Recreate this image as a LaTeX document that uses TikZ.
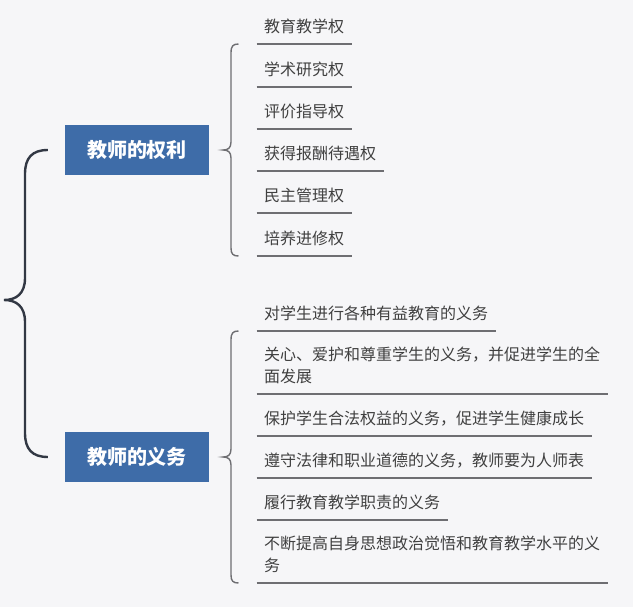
\documentclass[tikz,border=0pt]{standalone}
\usepackage{fontspec}
\setmainfont{Noto Sans CJK SC}
\usetikzlibrary{calc}
\definecolor{bg}{HTML}{F6F6F8}
\definecolor{boxblue}{HTML}{3E6CA8}
\definecolor{txt}{HTML}{404040}
\definecolor{uline}{HTML}{6E6E72}
\definecolor{bigb}{HTML}{323844}
\tikzset{
  titlebox/.style={fill=boxblue, text=white, minimum width=144pt, minimum height=50pt,
    inner sep=0pt, font=\fontsize{20}{24}\selectfont\bfseries},
  item/.style={anchor=south west, inner xsep=7.5pt, inner ysep=0pt, text depth=11.5pt,
    text=txt, font=\fontsize{16}{21.5}\selectfont, align=left},
  underl/.style={draw=uline, line width=1.4pt},
  smallbrace/.style={draw=uline, line width=1.4pt},
  bigbrace/.style={draw=bigb, line width=2.4pt},
}
\begin{document}
\begin{tikzpicture}[x=1pt,y=-1pt]
\fill[bg] (0,0) rectangle (633,607);
\useasboundingbox (0,0) rectangle (633,607);
% title boxes
\node[titlebox] (b1) at (137,150) {教师的权利};
\node[titlebox] (b2) at (137,457) {教师的义务};
% root brace
\coordinate (root) at (4,300);
\coordinate (e1) at ($(b1.west)+(-17,0)$);
\coordinate (e2) at ($(b2.west)+(-17,0)$);
\draw[bigbrace] (e1) .. controls (32,150) and (25,158) .. (25,174) -- (25,278)
  .. controls (25,294) and (16,300) .. (root)
  .. controls (16,300) and (25,306) .. (25,322) -- (25,433)
  .. controls (25,449) and (32,457) .. (e2);
% rights items
\node[item] (r1) at (256.5,44) {教育教学权};
\node[item] (r2) at (256.5,87) {学术研究权};
\node[item] (r3) at (256.5,129) {评价指导权};
\node[item] (r4) at (256.5,171) {获得报酬待遇权};
\node[item] (r5) at (256.5,213) {民主管理权};
\node[item] (r6) at (256.5,256) {培养进修权};
\foreach \n in {r1,r2,r3,r4,r5,r6}{\draw[underl] (\n.south west) -- (\n.south east);}
% duties items
\node[item] (d1) at (256.5,331) {对学生进行各种有益教育的义务};
\node[item] (d2) at (256.5,394) {\begin{tabular}[b]{@{}l@{}}关心、爱护和尊重学生的义务，并促进学生的全\\面发展\end{tabular}};
\node[item] (d3) at (256.5,436) {保护学生合法权益的义务，促进学生健康成长};
\node[item] (d4) at (256.5,478) {遵守法律和职业道德的义务，教师要为人师表};
\node[item] (d5) at (256.5,520) {履行教育教学职责的义务};
\node[item] (d6) at (256.5,583) {\begin{tabular}[b]{@{}l@{}}不断提高自身思想政治觉悟和教育教学水平的义\\务\end{tabular}};
\foreach \n in {d1,d2,d3,d4,d5,d6}{\draw[underl] (\n.south west) -- (\n.south east);}
% small braces
\coordinate (t1) at ($(b1.east)+(14,0)$);
\coordinate (t2) at ($(b2.east)+(14,0)$);
\draw[smallbrace] ($(r1.south west)+(-18,0)$) .. controls (233,44) and (231,46) .. (231,53) -- (231,142)
  .. controls (231,148) and (228,150) .. (t1)
  .. controls (228,150) and (231,152) .. (231,158) -- (231,248)
  .. controls (231,254) and (233,256) .. ($(r6.south west)+(-18,0)$);
\draw[smallbrace] ($(d1.south west)+(-18,0)$) .. controls (233,331) and (231,333) .. (231,340) -- (231,449)
  .. controls (231,455) and (228,457) .. (t2)
  .. controls (228,457) and (231,459) .. (231,465) -- (231,575)
  .. controls (231,581) and (233,583) .. ($(d6.south west)+(-18,0)$);
\end{tikzpicture}
\end{document}
